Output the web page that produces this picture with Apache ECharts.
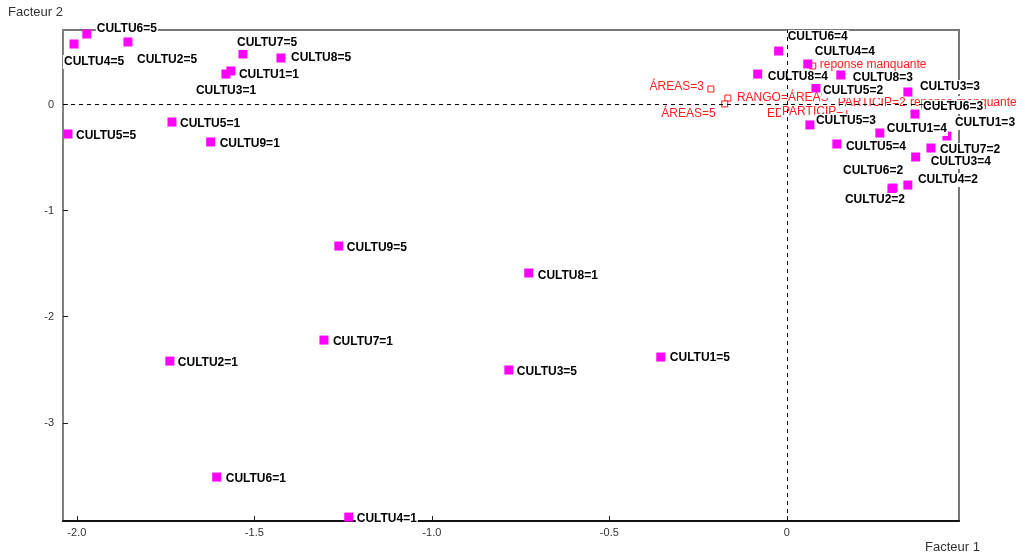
<!DOCTYPE html>
<html>
<head>
<meta charset="utf-8">
<script src="https://cdn.jsdelivr.net/npm/echarts@6/dist/echarts.min.js"></script>
<style>
html,body{margin:0;padding:0;background:#fff;}
#main{width:1025px;height:555px;}
</style>
</head>
<body>
<div id="main"></div>
<script>
// modalites actives (CULTU)
const activeNames = [
	'CULTU6=5','CULTU4=5','CULTU2=5','CULTU7=5','CULTU8=5','CULTU1=1','CULTU3=1',
	'CULTU5=5','CULTU5=1','CULTU9=1','CULTU9=5','CULTU8=1','CULTU7=1','CULTU2=1',
	'CULTU3=5','CULTU1=5','CULTU6=1','CULTU4=1',
	'CULTU6=4','CULTU4=4','CULTU8=4','CULTU8=3','CULTU5=2','CULTU3=3','CULTU6=3',
	'CULTU1=3','CULTU5=3','CULTU1=4','CULTU5=4','CULTU7=2','CULTU3=4','CULTU4=2',
	'CULTU2=2','CULTU6=2'
];
const activeX = [
	-1.972,-2.008,-1.856,-1.532,-1.425,-1.566,-1.580,
	-2.025,-1.732,-1.623,-1.262,-0.727,-1.304,-1.738,
	-0.783,-0.355,-1.606,-1.234,
	-0.023,0.059,-0.082,0.152,0.082,0.341,0.361,
	0.451,0.065,0.262,0.141,0.406,0.363,0.341,
	0.296,0.299
];
const activeY = [
	0.664,0.570,0.589,0.476,0.438,0.316,0.287,
	-0.278,-0.165,-0.353,-1.334,-1.588,-2.220,-2.418,
	-2.502,-2.380,-3.511,-3.888,
	0.504,0.382,0.287,0.278,0.156,0.118,-0.090,
	-0.297,-0.193,-0.269,-0.372,-0.410,-0.495,-0.759,
	-0.796,-0.787
];

// modalites supplementaires
const suppNames = ['ÁREAS=3','RANGO=ÁREAS','ÁREAS=5','reponse manquante','EDAD=2','PARTICIP=1','PARTICIP=2','reponse manquante'];
const suppX = [-0.214,-0.166,-0.175,0.073,0.037,0.023,0.177,0.389];
const suppY = [0.146,0.061,0.005,0.363,-0.071,-0.071,0.014,0.005];

const xTicks = [-2,-1.5,-1,-0.5,0];
const yTicks = [0,-1,-2,-3];

// placement des etiquettes (px, depuis le centre du point)
const activeLabelPos = [
	[9,-5],[-11,18],[8,18],[-7,-11],[9,0],[7,4],[-31,17],
	[7,2],[7,2],[8,2],[7,2],[8,3],[8,2],[7,2],
	[7,2],[8,1],[8,2],[7,2],
	[8,-14],[6,-12],[9,3],[11,3],[6,3],[11,-5],[7,-7],
	[7,-13],[5,-4],[6,-4],[8,3],[8,2],[14,5],[9,-5],
	[-48,11],[-51,-17]
];
const suppLabelPos = [
	[-6,-2,'right'],[8,0,'left'],[-8,10,'right'],[6,-1,'left'],
	[-34,2,'left'],[-14,0,'left'],[-13,0,'left'],[-16,-1,'left']
];

const FONT = 'Liberation Sans, Arial, sans-serif';

function buildActive(){
	return activeNames.map((n,i)=>{
		let p = activeLabelPos[i];
		return {
			name: n,
			value: [activeX[i], activeY[i]],
			label: {offset: [p[0], p[1]]}
		};
	});
}
function buildSupp(){
	return suppNames.map((n,i)=>{
		let p = suppLabelPos[i];
		return {
			name: n,
			value: [suppX[i], suppY[i]],
			label: {offset: [p[0], p[1]], align: p[2]}
		};
	});
}

const myChart = echarts.init(document.getElementById('main'));
myChart.setOption({
	animation: false,
	grid: {
		left: 63, right: 66, top: 30, bottom: 34,
		show: true,
		borderColor: '#777',
		borderWidth: 2
	},
	graphic: [
		{type:'text', left: 8, top: 6, style:{text:'Facteur 2', fill:'#333', font:'13px ' + FONT}},
		{type:'text', left: 925, top: 541, style:{text:'Facteur 1', fill:'#333', font:'13px ' + FONT}}
	],
	xAxis: {
		type: 'value',
		min: -2.039, max: 0.485,
		axisLine: {show: true, onZero: false, lineStyle: {color: '#111', width: 2}},
		axisTick: {show: true, inside: true, length: 5, customValues: xTicks, lineStyle: {color: '#222'}},
		axisLabel: {
			customValues: xTicks, color: '#333', fontSize: 11, fontFamily: FONT, margin: 6,
			formatter: (v)=> v === 0 ? '0' : v.toFixed(1)
		},
		splitLine: {show: false}
	},
	yAxis: {
		type: 'value',
		min: -3.925, max: 0.702,
		axisLine: {show: true, onZero: false, lineStyle: {color: '#808080', width: 2}},
		axisTick: {show: true, inside: true, length: 5, customValues: yTicks, lineStyle: {color: '#222'}},
		axisLabel: {
			customValues: yTicks, color: '#333', fontSize: 11, fontFamily: FONT, margin: 9,
			formatter: (v)=> String(v)
		},
		splitLine: {show: false}
	},
	series: [
		{
			name: 'supp',
			type: 'scatter',
			z: 2,
			symbol: 'rect',
			symbolSize: 6,
			itemStyle: {color: '#fff', borderColor: '#ff1a1a', borderWidth: 1, opacity: 1},
			label: {
				show: true,
				position: 'inside',
				verticalAlign: 'middle',
				formatter: '{b}',
				color: '#ff2020',
				fontSize: 12,
				fontFamily: FONT,
				backgroundColor: '#fff',
				padding: [1,1],
				textBorderWidth: 0
			},
			markLine: {
				silent: true,
				symbol: ['none','none'],
				label: {show: false},
				lineStyle: {color: '#000', type: [4,4], width: 1},
				data: [{xAxis: 0}, {yAxis: 0}]
			},
			data: buildSupp()
		},
		{
			name: 'actives',
			type: 'scatter',
			z: 3,
			symbol: 'rect',
			symbolSize: 9,
			itemStyle: {color: '#ff00ff', opacity: 1},
			label: {
				show: true,
				position: 'inside',
				align: 'left',
				verticalAlign: 'middle',
				formatter: '{b}',
				color: '#000',
				fontSize: 12,
				fontWeight: 'bold',
				fontFamily: FONT,
				backgroundColor: '#fff',
				padding: [1,1],
				textBorderWidth: 0
			},
			data: buildActive()
		}
	]
});
</script>
</body>
</html>
